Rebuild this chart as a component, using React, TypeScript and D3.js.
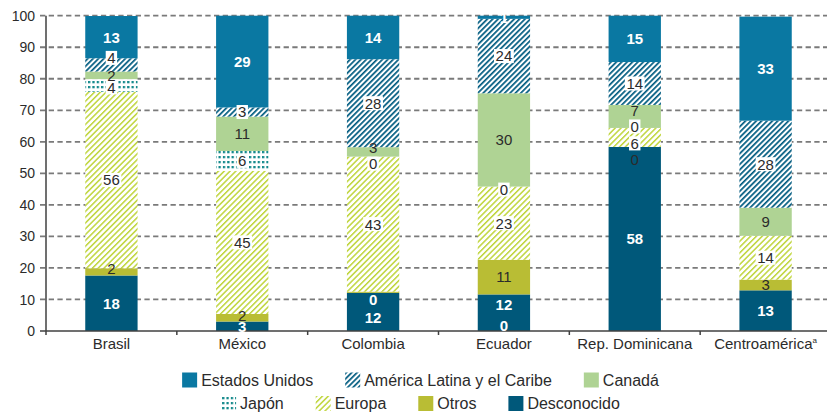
import React from "react";
import * as d3 from "d3";

// ---------- data ----------
const countries = ["Brasil", "México", "Colombia", "Ecuador", "Rep. Dominicana", "Centroamérica"];
const countryNotes = ["", "", "", "", "", "a"];

const desconocido = [17.6, 3.0, 12.1, 11.6, 58.4, 12.9];
const otros = [2.3, 2.4, 0.4, 11.0, 0, 3.4];
const europa = [56.0, 45.4, 42.8, 23.2, 6.0, 13.9];
const japon: (number | null)[] = [4.0, 6.3, 0, 0, 0, null];
const canada = [2.4, 10.9, 3.0, 29.6, 7.3, 8.9];
const americaLatina = [4.2, 2.9, 27.9, 23.6, 13.6, 27.6];
const estadosUnidos = [13.4, 29.1, 13.8, 1.0, 14.7, 33.0];

const seriesNames = ["Desconocido", "Otros", "Europa", "Japón", "Canadá", "América Latina y el Caribe", "Estados Unidos"];
const seriesValues = [desconocido, otros, europa, japon, canada, americaLatina, estadosUnidos];
const extraZeroLabels = ["Ecuador"];

const yTicks = [0, 10, 20, 30, 40, 50, 60, 70, 80, 90, 100];

const legendRows = [
  ["Estados Unidos", "América Latina y el Caribe", "Canadá"],
  ["Japón", "Europa", "Otros", "Desconocido"],
];

// ---------- styling ----------
const W = 827;
const H = 414;
const fills: Record<string, string> = {
  "Estados Unidos": "#0a78a2",
  "América Latina y el Caribe": "url(#pat-alc)",
  "Canadá": "#afd394",
  "Japón": "url(#pat-jap)",
  "Europa": "url(#pat-eur)",
  "Otros": "#b9bd34",
  "Desconocido": "#00587a",
};
const whiteLabel = new Set(["Estados Unidos", "Desconocido"]);
const bgLabel = new Set(["América Latina y el Caribe", "Europa", "Japón"]);
const labelNudge: Record<string, number> = {
  "Brasil|América Latina y el Caribe": -7,
  "Brasil|Japón": 2,
  "Brasil|Otros": -3,
  "México|Otros": -2,
  "Colombia|Canadá": -4,
  "Colombia|Japón": 7,
  "Colombia|Otros": 7,
  "Colombia|Desconocido": 6,
  "Ecuador|Japón": 3,
  "Ecuador|Desconocido": -8,
  "Rep. Dominicana|Otros": 12.5,
  "Rep. Dominicana|Europa": 6,
  "Rep. Dominicana|Japón": -1.5,
  "Rep. Dominicana|Canadá": -5.5,
};
const labelWhiteOverride = new Set(["Colombia|Otros"]);

const FONT = "'Liberation Sans', Arial, sans-serif";
const TEXT = "#2b2b2b";

export default function App() {
  const x = d3.scaleBand<string>().domain(countries).range([46, 831]).padding(0);
  const y = d3.scaleLinear().domain([0, 100]).range([331, 15.7]);
  const barW = x.bandwidth() * 0.4;

  const rows = countries.map((c, i) => {
    const r: Record<string, any> = { country: c };
    seriesNames.forEach((s, k) => (r[s] = seriesValues[k][i]));
    return r;
  });
  const stacked = d3.stack<Record<string, any>>()
    .keys(seriesNames)
    .value((d, k) => (d[k] == null ? 0 : d[k]))(rows);

  // legend layout with measured text widths
  const canvas = typeof document !== "undefined" ? document.createElement("canvas") : null;
  const ctx = canvas ? canvas.getContext("2d") : null;
  const legendFont = 16;
  if (ctx) ctx.font = `${legendFont}px 'Liberation Sans'`;
  const measure = (t: string) => (ctx ? ctx.measureText(t).width : t.length * 8.5);
  const sw = 15, swGap = 4, itemGap = 32;
  const legendCenter = 420.5;
  const legendY = [372.5, 396];

  const barLabel = (s: string, i: number) => {
    const c = countries[i];
    const v = seriesValues[seriesNames.indexOf(s)][i];
    if (v == null) return null;
    const seg = stacked[seriesNames.indexOf(s)][i];
    const key = `${c}|${s}`;
    const cy = (y(seg[0]) + y(seg[1])) / 2 + (labelNudge[key] || 0);
    const cx = (x(c) as number) + x.bandwidth() / 2;
    const txt = String(Math.round(v));
    const white = whiteLabel.has(s) || labelWhiteOverride.has(key);
    const tw = txt.length * 8.4;
    return (
      <g key={key}>
        {bgLabel.has(s) && (
          <rect x={cx - tw / 2 - 1.5} y={cy - 7} width={tw + 3} height={14} fill="#ffffff" />
        )}
        <text x={cx} y={cy} dy="0.36em" textAnchor="middle" fontSize={15}
          fontWeight={white ? "bold" : "normal"} fill={white ? "#ffffff" : TEXT}>{txt}</text>
      </g>
    );
  };

  return (
    <svg width={W} height={H} style={{ position: "absolute", left: 0, top: 0, fontFamily: FONT }}>
      <defs>
        <pattern id="pat-alc" patternUnits="userSpaceOnUse" width={3.8} height={3.8} patternTransform="rotate(45)">
          <rect width={3.8} height={3.8} fill="#ffffff" />
          <rect x={0} y={0} width={1.7} height={3.8} fill="#005b80" />
        </pattern>
        <pattern id="pat-eur" patternUnits="userSpaceOnUse" width={4.1} height={4.1} patternTransform="rotate(45)">
          <rect width={4.1} height={4.1} fill="#ffffff" />
          <rect x={0} y={0} width={1.5} height={4.1} fill="#bfd53c" />
        </pattern>
        <pattern id="pat-jap" patternUnits="userSpaceOnUse" width={4.35} height={5} x={1} y={1}>
          <rect width={4.35} height={5} fill="#ffffff" />
          <rect x={0} y={0} width={2.3} height={2.3} fill="#168a8c" />
        </pattern>
      </defs>

      {/* gridlines */}
      {yTicks.filter(t => t > 0).map(t => (
        <line key={t} x1={40} x2={W} y1={y(t)} y2={y(t)} stroke="#7a7a7a" strokeWidth={1.8} strokeDasharray="5.3,3.4" />
      ))}
      {/* y tick labels */}
      {yTicks.map(t => (
        <text key={t} x={35} y={y(t)} dy="0.36em" textAnchor="end" fontSize={14} fill={TEXT}>{t}</text>
      ))}

      {/* bars */}
      {stacked.map(layer => (
        <g key={layer.key} fill={fills[layer.key]}>
          {layer.map((seg, i) => {
            const h = y(seg[0]) - y(seg[1]);
            if (h <= 0) return null;
            return (
              <rect key={i} x={(x(countries[i]) as number) + (x.bandwidth() - barW) / 2}
                y={y(seg[1])} width={barW} height={h} />
            );
          })}
        </g>
      ))}

      {/* axes */}
      <line x1={46} x2={46} y1={y(100)} y2={y(0)} stroke="#404040" strokeWidth={1.5} />
      <line x1={40} x2={W} y1={y(0)} y2={y(0)} stroke="#404040" strokeWidth={1.5} />
      {countries.map(c => (
        <line key={c} x1={x(c) as number} x2={x(c) as number} y1={y(0)} y2={y(0) + 4} stroke="#404040" strokeWidth={1.5} />
      ))}
      {countries.map((c, i) => (
        <text key={c} x={(x(c) as number) + x.bandwidth() / 2} y={349} textAnchor="middle" fontSize={15} fill={TEXT}>
          {c}
          {countryNotes[i] && <tspan fontSize={8} dy={-6}>{countryNotes[i]}</tspan>}
        </text>
      ))}

      {/* value labels */}
      {seriesNames.map(s => countries.map((_, i) => barLabel(s, i)))}
      {extraZeroLabels.map(c => (
        <text key={"extra" + c} x={(x(c) as number) + x.bandwidth() / 2} y={y(0) - 5.5} dy="0.36em"
          textAnchor="middle" fontSize={15} fontWeight="bold" fill="#ffffff">0</text>
      ))}

      {/* legend */}
      {legendRows.map((row, r) => {
        const widths = row.map(n => sw + swGap + measure(n));
        const total = widths.reduce((a, b) => a + b, 0) + itemGap * (row.length - 1);
        let cur = legendCenter - total / 2;
        return (
          <g key={r}>
            {row.map((n, k) => {
              const x0 = cur;
              cur += widths[k] + itemGap;
              return (
                <g key={n} transform={`translate(${x0},${legendY[r]})`}>
                  <rect width={sw} height={sw} fill={fills[n]} />
                  <text x={sw + swGap} y={sw / 2} dy="0.36em" fontSize={legendFont} fill={TEXT}>{n}</text>
                </g>
              );
            })}
          </g>
        );
      })}
    </svg>
  );
}
